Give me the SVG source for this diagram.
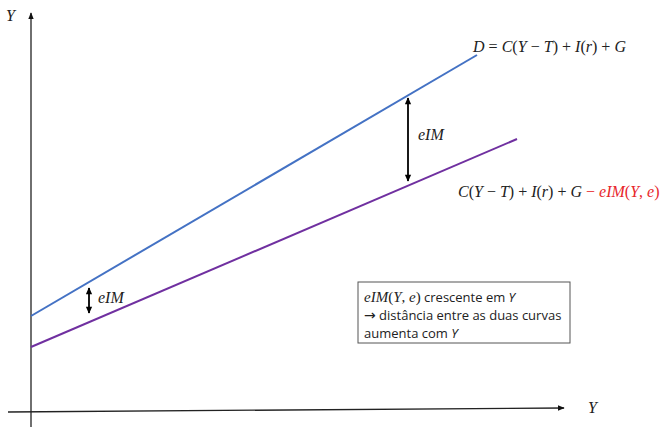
<svg xmlns="http://www.w3.org/2000/svg" width="660" height="428" viewBox="0 0 660 428">
<style>
.m{font-family:"Liberation Serif","DejaVu Serif",serif;font-size:16px;fill:#222}
.i{font-style:italic}
.r{fill:#e8262b}
.t{font-family:"Open Sans","Liberation Sans",sans-serif;font-size:13px;fill:#222}
.ar{font-family:"DejaVu Sans",sans-serif;font-size:14px}
.ax{stroke:#222;stroke-width:1.3;fill:none}
.da{stroke:#000;stroke-width:1.8;fill:none}
</style>
<defs>
<marker id="ah" viewBox="0 0 10 10" refX="9" refY="5" markerWidth="7" markerHeight="7" orient="auto-start-reverse" markerUnits="userSpaceOnUse">
<path d="M0,1 L10,5 L0,9 z" fill="#111"/>
</marker>
<marker id="dh" viewBox="0 0 10 10" refX="9" refY="5" markerWidth="8" markerHeight="7" orient="auto-start-reverse" markerUnits="userSpaceOnUse">
<path d="M0,0.5 L10,5 L0,9.5 z" fill="#000"/>
</marker>
</defs>
<rect width="660" height="428" fill="#fff"/>
<g id="axes">
<line class="ax" x1="31" y1="427" x2="31" y2="13" marker-end="url(#ah)"/>
<line class="ax" x1="8" y1="412" x2="564" y2="408" marker-end="url(#ah)"/>
<text class="m i" x="6" y="21">Y</text>
<text class="m i" x="588" y="413">Y</text>
</g>
<g id="connectors">
<line id="demand" x1="31" y1="316" x2="477" y2="55" stroke="#4472c4" stroke-width="2"/>
<line id="demand-eim" x1="31" y1="347" x2="517" y2="139" stroke="#7030a0" stroke-width="2"/>
<line class="da" x1="408" y1="98" x2="408" y2="181" marker-start="url(#dh)" marker-end="url(#dh)"/>
<line class="da" x1="89" y1="288" x2="89" y2="313" marker-start="url(#dh)" marker-end="url(#dh)"/>
</g>
<g id="labels">
<text class="m" x="473" y="52" textLength="153" lengthAdjust="spacing"><tspan class="i">D</tspan> = <tspan class="i">C</tspan>(<tspan class="i">Y</tspan> − <tspan class="i">T</tspan>) + <tspan class="i">I</tspan>(<tspan class="i">r</tspan>) + <tspan class="i">G</tspan></text>
<text class="m" x="458" y="197"><tspan class="i">C</tspan>(<tspan class="i">Y</tspan> − <tspan class="i">T</tspan>) + <tspan class="i">I</tspan>(<tspan class="i">r</tspan>) + <tspan class="i">G</tspan><tspan class="r"> − <tspan class="i">eIM</tspan>(<tspan class="i">Y</tspan>, <tspan class="i">e</tspan>)</tspan></text>
<text class="m i" x="418" y="140">eIM</text>
<text class="m i" x="98" y="303">eIM</text>
</g>
<g id="note">
<rect x="358" y="282" width="212" height="61" fill="#fff" stroke="#555" stroke-width="1"/>
<text class="t" x="364" y="302"><tspan class="m i" style="font-size:15px">eIM</tspan><tspan class="m" style="font-size:15px">(</tspan><tspan class="m i" style="font-size:15px">Y</tspan><tspan class="m" style="font-size:15px">, </tspan><tspan class="m i" style="font-size:15px">e</tspan><tspan class="m" style="font-size:15px">)</tspan> crescente em <tspan style="font-style:italic">Y</tspan></text>
<text class="t" x="364" y="320"><tspan class="ar">→</tspan> distância entre as duas curvas</text>
<text class="t" x="364" y="338">aumenta com <tspan style="font-style:italic">Y</tspan></text>
</g>
</svg>
